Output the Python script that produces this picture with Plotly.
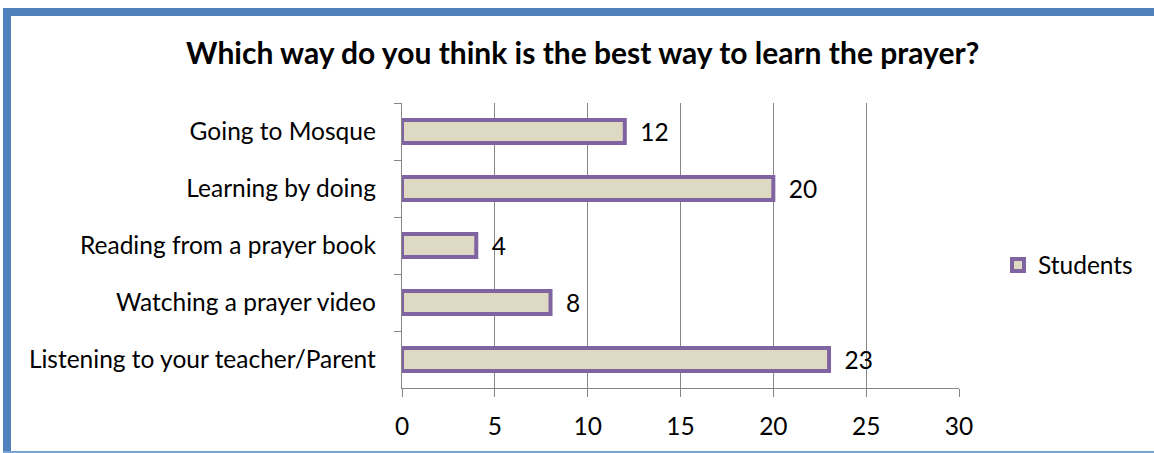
import plotly.graph_objects as go

categories = ["Going to Mosque", "Learning by doing", "Reading from a prayer book",
              "Watching a prayer video", "Listening to your teacher/Parent"]
students = [12, 20, 4, 8, 23]
x_ticks = [0, 5, 10, 15, 20, 25, 30]

FONT = "Lato"
W, H = 1154, 453
L, R, T, B = 402, 959, 103, 388

fig = go.Figure()
fig.add_trace(go.Bar(
    y=categories, x=students, orientation="h", name="Students",
    marker=dict(color="#DDD9C3", line=dict(color="#8064A2", width=4)),
    width=0.4,
    text=["\u00a0\u00a0" + str(v) for v in students], textposition="outside",
    constraintext="none",
    textfont=dict(family=FONT, size=24.5, color="black"),
    cliponaxis=False,
))

fig.update_layout(
    width=W, height=H,
    margin=dict(l=L, r=W - R, t=T, b=H - B, pad=0),
    paper_bgcolor="white", plot_bgcolor="white",
    font=dict(family=FONT, size=24.5, color="black"),
    title=dict(text="<b>Which way do you think is the best way to learn the prayer?</b>",
               x=0.505, xanchor="center", y=1 - 53 / H, yanchor="middle",
               font=dict(family=FONT, size=30, color="black")),
    showlegend=True,
    legend=dict(x=(998 - L) / (R - L), xanchor="left", y=(B - 265) / (B - T), yanchor="middle",
                font=dict(family=FONT, size=24.5), bgcolor="rgba(0,0,0,0)",
                itemwidth=30, traceorder="normal"),
    xaxis=dict(range=[0, 30], tickvals=x_ticks, ticktext=[str(t) for t in x_ticks],
               showgrid=True, gridcolor="#868686", gridwidth=1.4,
               showline=True, linecolor="#868686", linewidth=1.4,
               ticks="outside", ticklen=8, tickcolor="#868686", tickwidth=1.4,
               zeroline=False, ticklabelstandoff=8),
    yaxis=dict(type="category", autorange="reversed", tickson="boundaries",
               showgrid=False, showline=True, linecolor="#868686", linewidth=1.4,
               ticks="outside", ticklen=7, tickcolor="#868686", tickwidth=1.4,
               ticklabelstandoff=20),
    shapes=[
        dict(type="rect", xref="paper", yref="paper", layer="above",
             x0=-(L - 3) / (R - L), x1=-(L - 11) / (R - L),
             y0=-(H - B) / (B - T), y1=(B - 8) / (B - T),
             fillcolor="#4F81BD", line=dict(width=0)),
        dict(type="rect", xref="paper", yref="paper", layer="above",
             x0=-(L - 3) / (R - L), x1=(W - L) / (R - L),
             y0=(B - 16) / (B - T), y1=(B - 8) / (B - T),
             fillcolor="#4F81BD", line=dict(width=0)),
        dict(type="line", xref="paper", yref="paper", layer="above",
             x0=-(L - 3) / (R - L), x1=(W - L) / (R - L),
             y0=-(452 - B) / (B - T), y1=-(452 - B) / (B - T),
             line=dict(color="#79A3D4", width=2)),
    ],
)

fig.write_html("out.html", config={"displayModeBar": False},
               post_script="document.body.style.margin='0';")
